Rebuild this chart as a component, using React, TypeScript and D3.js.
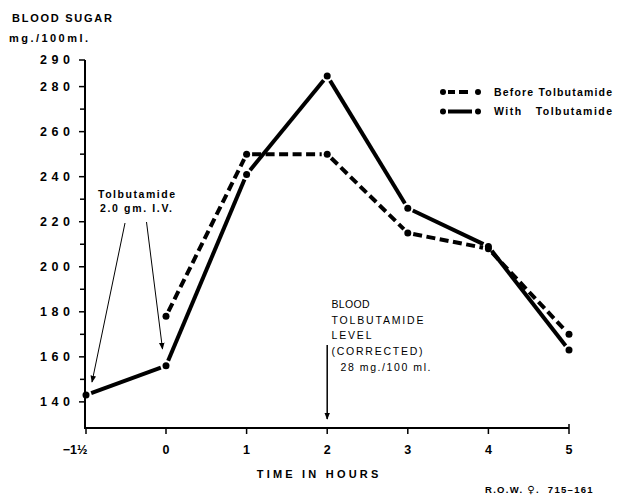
import React from "react";
import * as d3 from "d3";

const timePoints = [-1.5, 0, 1, 2, 3, 4, 5];
const xTickLabels = ["−1½", "0", "1", "2", "3", "4", "5"];
const beforeValues: (number | null)[] = [null, 178, 250, 250, 215, 208, 170];
const withValues: (number | null)[] = [143, 156, 241, 284, 226, 209, 163];
const yMajorTicks = [140, 160, 180, 200, 220, 240, 260, 280, 290];
const yMinorTicks = [150, 170, 190, 210, 230, 250, 270];
const legendLabels = ["Before Tolbutamide", "With   Tolbutamide"];
const annotationLines = ["BLOOD", "TOLBUTAMIDE", "LEVEL", "(CORRECTED)"];

const W = 619;
const H = 495;
const FONT = "'Liberation Sans', Arial, sans-serif";

export default function App() {
  const x = d3.scaleLinear().domain([-1.5, 0, 5]).range([86, 166, 569]);
  const y = d3.scaleLinear().domain([128.4, 280, 290]).range([428, 86.6, 60]);

  const gap = 5.5;
  const segments = (vals: (number | null)[]) => {
    const pts = timePoints
      .map((t, i) => (vals[i] == null ? null : [x(t), y(vals[i] as number)]))
      .filter((p) => p) as number[][];
    const segs: number[][] = [];
    for (let i = 0; i < pts.length - 1; i++) {
      const [x1, y1] = pts[i];
      const [x2, y2] = pts[i + 1];
      const len = Math.hypot(x2 - x1, y2 - y1);
      const ux = (x2 - x1) / len;
      const uy = (y2 - y1) / len;
      segs.push([x1 + ux * gap, y1 + uy * gap, x2 - ux * gap, y2 - uy * gap]);
    }
    return { pts, segs };
  };
  const before = segments(beforeValues);
  const withT = segments(withValues);
  const axisX = x(-1.5) - 1;
  const axisY = y(128.4);

  return (
    <svg width={W} height={H} style={{ position: "absolute", left: 0, top: 0, background: "#fff" }}
      fontFamily={FONT}>
      <defs>
        <marker id="arr" viewBox="0 0 10 10" refX="9" refY="5" markerWidth="7" markerHeight="7"
          orient="auto" markerUnits="userSpaceOnUse">
          <path d="M0,1 L10,5 L0,9 Z" fill="#000" />
        </marker>
      </defs>
      <rect width={W} height={H} fill="#fff" />

      {/* Y axis title */}
      <text x={12} y={18} dy="0.35em" fontSize={11} fontWeight="bold" textLength={100}
        lengthAdjust="spacing">BLOOD SUGAR</text>
      <text x={9} y={38} dy="0.35em" fontSize={11} fontWeight="bold" textLength={79}
        lengthAdjust="spacing">mg./100ml.</text>

      {/* Y axis */}
      <line x1={axisX} x2={axisX} y1={y(290)} y2={axisY} stroke="#000" strokeWidth={2} />
      {yMajorTicks.map((v) => (
        <g key={"M" + v}>
          <line x1={axisX - 6} x2={axisX} y1={y(v)} y2={y(v)} stroke="#000" strokeWidth={1.5} />
          <text x={70} y={y(v)} dy="0.35em" fontSize={12.5} fontWeight="bold" textAnchor="end"
            textLength={30} lengthAdjust="spacing">{v}</text>
        </g>
      ))}
      {yMinorTicks.map((v) => (
        <line key={"m" + v} x1={axisX - 5} x2={axisX} y1={y(v)} y2={y(v)} stroke="#000" strokeWidth={1.5} />
      ))}

      {/* X axis */}
      <line x1={axisX - 1} x2={x(5)} y1={axisY} y2={axisY} stroke="#000" strokeWidth={2} />
      <line x1={x(5)} x2={x(5)} y1={axisY - 4} y2={axisY} stroke="#000" strokeWidth={1.5} />
      {timePoints.map((t, i) => (
        <g key={"x" + t}>
          <line x1={x(t)} x2={x(t)} y1={axisY} y2={axisY + 6} stroke="#000" strokeWidth={1.5} />
          <text x={x(t) + (i === 0 ? -11 : 0)} y={450} dy="0.35em" fontSize={12.5} fontWeight="bold"
            textAnchor="middle">{xTickLabels[i]}</text>
        </g>
      ))}
      <text x={256.7} y={474.5} dy="0.35em" fontSize={11} fontWeight="bold" textLength={121.6}
        lengthAdjust="spacing">TIME IN HOURS</text>
      <text x={485} y={490} dy="0.35em" fontSize={9.5} fontWeight="bold" letterSpacing={1.3}
        style={{ whiteSpace: "pre" }}>
        <tspan>{"R.O.W. "}</tspan>
        <tspan fontFamily="'DejaVu Sans', sans-serif" fontSize={10}>♀</tspan>
        <tspan>{".  715–161"}</tspan>
      </text>

      {/* Series: before (dashed) */}
      {before.segs.map((s, i) => (
        <line key={"bs" + i} x1={s[0]} y1={s[1]} x2={s[2]} y2={s[3]} stroke="#000" strokeWidth={4}
          strokeDasharray="9,4.5" />
      ))}
      {before.pts.map((p, i) => (
        <circle key={"bp" + i} cx={p[0]} cy={p[1]} r={3.5} fill="#000" />
      ))}
      {/* Series: with (solid) */}
      {withT.segs.map((s, i) => (
        <line key={"ws" + i} x1={s[0]} y1={s[1]} x2={s[2]} y2={s[3]} stroke="#000" strokeWidth={4} />
      ))}
      {withT.pts.map((p, i) => (
        <circle key={"wp" + i} cx={p[0]} cy={p[1]} r={3.5} fill="#000" />
      ))}

      {/* Legend */}
      <g>
        <circle cx={443} cy={92} r={3} fill="#000" />
        <line x1={448} x2={455} y1={92} y2={92} stroke="#000" strokeWidth={4} />
        <line x1={459} x2={468} y1={92} y2={92} stroke="#000" strokeWidth={4} />
        <circle cx={478} cy={92} r={3} fill="#000" />
        <text x={494} y={92} dy="0.35em" fontSize={10.5} fontWeight="bold" textLength={118}
          lengthAdjust="spacing">{legendLabels[0]}</text>
        <circle cx={443} cy={111.5} r={3} fill="#000" />
        <line x1={448} x2={472} y1={111.5} y2={111.5} stroke="#000" strokeWidth={4} />
        <circle cx={478} cy={111.5} r={3} fill="#000" />
        <text x={494} y={111.5} dy="0.35em" fontSize={10.5} fontWeight="bold" textLength={118}
          lengthAdjust="spacing" xmlSpace="preserve" style={{ whiteSpace: "pre" }}>{legendLabels[1]}</text>
      </g>

      {/* Tolbutamide injection annotation */}
      <text x={98} y={194} dy="0.35em" fontSize={10.5} fontWeight="bold" textLength={77}
        lengthAdjust="spacing">Tolbutamide</text>
      <text x={100} y={208} dy="0.35em" fontSize={10.5} fontWeight="bold" textLength={72}
        lengthAdjust="spacing">2.0 gm. I.V.</text>
      <line x1={125} y1={223} x2={92} y2={382} stroke="#000" strokeWidth={1} markerEnd="url(#arr)" />
      <line x1={146.5} y1={222} x2={162.5} y2={349} stroke="#000" strokeWidth={1} markerEnd="url(#arr)" />

      {/* Blood tolbutamide level annotation */}
      {annotationLines.map((t, i) => (
        <text key={t} x={331.5} y={304 + i * 15.9} dy="0.35em" fontSize={10.5}
          textLength={[38, 92, 40, 91][i]} lengthAdjust="spacing">{t}</text>
      ))}
      <text x={340.5} y={367} dy="0.35em" fontSize={10.5} textLength={90}
        lengthAdjust="spacing">28 mg./100 ml.</text>
      <line x1={x(2)} y1={345} x2={x(2)} y2={419} stroke="#000" strokeWidth={1.5} markerEnd="url(#arr)" />
    </svg>
  );
}
